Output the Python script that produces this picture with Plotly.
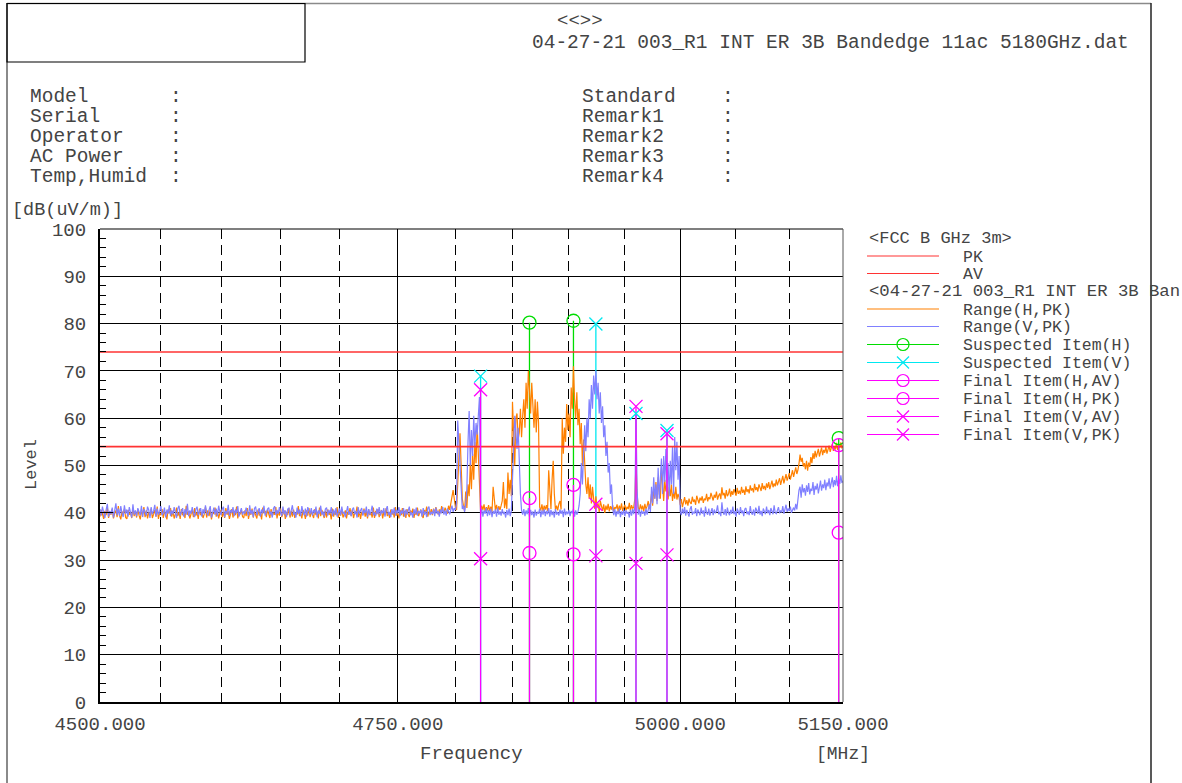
import math
import plotly.graph_objects as go

# ---- sweep setup (MHz) ----------------------------------------------------
START_MHZ, STOP_MHZ, STEP_MHZ = 4500, 5150, 1
freq_mhz = list(range(START_MHZ, STOP_MHZ + 1, STEP_MHZ))

# ---- Range(H,PK) sweep, dB(uV/m), one row = 10 MHz -----------------------
range_h_pk = [
    39.2, 40.6, 39.8, 38.7, 40.4, 39.5, 41.1, 38.9, 40.2, 39.6,
    40.8, 38.8, 39.9, 40.5, 39.1, 41.4, 39.4, 38.6, 40.3, 39.7,
    40.9, 39.0, 38.7, 40.6, 39.6, 40.1, 38.9, 41.0, 39.3, 40.4,
    39.0, 40.7, 39.5, 38.6, 40.2, 39.8, 41.2, 39.1, 40.5, 38.8,
    40.1, 39.4, 40.9, 38.9, 39.7, 40.6, 39.2, 41.3, 38.7, 40.0,
    39.5, 40.8, 38.9, 40.3, 39.6, 38.6, 40.7, 39.9, 41.0, 39.2,
    40.4, 38.8, 39.7, 41.1, 39.3, 40.2, 38.7, 40.8, 39.5, 40.0,
    38.9, 41.5, 39.6, 40.3, 38.8, 39.9, 40.6, 39.1, 41.0, 39.4,
    40.2, 38.7, 40.9, 39.5, 40.1, 38.9, 39.7, 41.2, 39.0, 40.5,
    39.3, 40.7, 38.6, 40.0, 39.8, 41.1, 39.2, 40.4, 38.8, 39.9,
    40.6, 39.1, 40.2, 38.9, 41.0, 39.6, 40.3, 38.7, 39.8, 40.8,
    39.0, 40.4, 39.5, 41.3, 38.8, 40.1, 39.7, 40.6, 39.2, 38.9,
    40.5, 39.3, 41.0, 38.7, 40.2, 39.6, 40.9, 39.0, 40.3, 39.5,
    38.8, 40.7, 39.4, 40.1, 38.6, 41.1, 39.9, 40.4, 39.1, 40.6,
    39.7, 38.9, 40.8, 39.3, 40.0, 39.6, 41.2, 38.8, 40.3, 39.4,
    40.9, 39.1, 39.8, 40.5, 38.7, 40.2, 39.5, 41.0, 39.0, 40.4,
    39.2, 40.7, 38.9, 40.1, 39.6, 41.4, 39.3, 40.0, 38.8, 40.6,
    39.9, 38.7, 40.5, 39.4, 41.0, 39.1, 40.3, 39.7, 38.9, 40.8,
    39.5, 40.2, 38.8, 41.1, 39.3, 40.6, 39.8, 38.9, 40.4, 39.0,
    40.7, 39.6, 40.0, 38.6, 40.9, 39.2, 40.3, 39.5, 41.2, 38.9,
    40.1, 39.4, 40.8, 39.0, 39.7, 40.5, 38.8, 40.2, 39.6, 41.0,
    39.3, 40.6, 38.9, 40.0, 39.8, 41.3, 39.1, 40.4, 38.7, 40.2,
    39.6, 40.9, 39.2, 40.3, 38.8, 40.7, 39.5, 40.1, 39.0, 41.1,
    38.9, 40.4, 39.7, 40.8, 39.1, 39.9, 40.6, 38.8, 40.2, 39.5,
    41.0, 39.3, 40.1, 38.9, 40.7, 39.6, 40.3, 39.0, 41.2, 39.4,
    40.0, 38.8, 40.6, 39.5, 41.0, 39.2, 40.4, 38.9, 40.8, 39.7,
    39.1, 40.5, 39.8, 40.9, 38.9, 40.2, 39.6, 41.1, 39.3, 40.0,
    40.7, 39.4, 38.9, 40.6, 39.9, 41.3, 39.2, 40.3, 39.7, 40.8,
    39.5, 40.9, 39.8, 41.2, 40.1, 39.6, 40.7, 39.9, 41.4, 40.3,
    40.0, 41.1, 40.4, 39.8, 41.5, 40.6, 42.0, 43.5, 44.8, 43.0,
    41.2, 40.6, 47.5, 52.0, 56.8, 50.0, 43.0, 41.5, 40.4, 44.5,
    41.0, 46.0, 43.5, 50.5, 45.0, 52.5, 47.0, 55.0, 50.5, 58.5,
    53.0, 49.0, 40.3, 41.5, 40.6, 41.8, 40.2, 41.2, 40.5, 41.6,
    40.4, 41.3, 40.1, 45.5, 42.0, 40.5, 41.7, 40.3, 41.4, 40.6,
    41.5, 42.5, 46.5, 41.0, 43.0, 40.8, 48.5, 44.0, 47.0, 43.5,
    63.5, 54.0, 50.0, 60.0, 61.0, 55.5, 57.0, 62.0, 56.0, 60.5,
    64.0, 58.0, 67.5, 62.0, 70.0, 66.0, 61.0, 67.5, 63.0, 58.0,
    64.0, 57.0, 63.5, 59.0, 41.2, 40.5, 41.8, 40.3, 41.5, 40.7,
    41.6, 40.4, 49.0, 43.0, 40.8, 47.0, 51.0, 44.0, 40.6, 41.5,
    40.5, 41.9, 42.5, 40.7, 60.0, 52.5, 58.0, 55.0, 63.0, 57.5,
    61.0, 56.0, 66.5, 62.0, 71.0, 64.0, 60.0, 65.5, 58.5, 62.0,
    54.5, 59.0, 50.0, 55.5, 48.5, 46.0, 44.0, 47.5, 43.0, 46.0,
    42.0, 45.5, 43.0, 40.8, 43.5, 41.0, 42.0, 40.2, 42.5, 41.2,
    40.4, 41.8, 40.0, 41.5, 40.6, 41.9, 40.3, 41.4, 40.7, 41.6,
    40.3, 41.2, 40.9, 41.8, 40.2, 41.5, 40.6, 42.0, 40.4, 41.1,
    41.7, 40.5, 41.3, 40.8, 42.1, 40.4, 41.6, 40.9, 41.2, 43.0,
    51.0, 44.0, 41.2, 40.5, 41.8, 40.7, 41.5, 40.3, 41.9, 40.8,
    41.4, 42.5, 40.9, 42.0, 44.0, 41.5, 45.0, 43.0, 46.5, 42.5,
    47.5, 44.0, 43.0, 49.5, 45.0, 42.5, 47.0, 44.5, 46.0, 42.8,
    45.5, 43.5, 46.0, 42.5, 44.5, 43.0, 45.5, 42.8, 44.0, 43.2,
    41.6, 42.9, 41.2, 42.5, 43.3, 41.8, 42.7, 41.5, 43.0, 42.2,
    41.9, 43.4, 42.3, 42.8, 41.7, 43.6, 42.5, 42.0, 43.2, 42.6,
    43.5, 42.1, 43.0, 42.7, 44.0, 42.4, 43.3, 42.9, 44.2, 43.1,
    42.6, 43.8, 43.2, 44.5, 42.8, 43.6, 44.1, 42.9, 45.4, 43.7,
    44.2, 43.0, 44.8, 43.5, 44.0, 45.1, 43.4, 44.6, 43.8, 45.0,
    44.3, 43.6, 45.3, 44.0, 44.7, 43.9, 45.5, 44.2, 44.9, 43.8,
    45.6, 44.4, 45.0, 44.1, 45.8, 44.7, 45.2, 44.3, 46.1, 44.8,
    45.4, 44.5, 46.0, 45.1, 44.6, 46.3, 45.0, 45.7, 44.8, 46.2,
    45.3, 46.5, 45.0, 45.9, 46.8, 45.4, 46.2, 45.6, 47.0, 45.8,
    46.4, 47.3, 45.9, 46.7, 47.8, 46.2, 47.1, 48.2, 46.8, 47.5,
    48.4, 47.0, 47.9, 49.0, 47.6, 48.5, 49.6, 48.2, 49.0, 50.4,
    52.3, 50.8, 51.6, 49.8, 50.5, 49.2, 51.0, 48.9, 50.6, 49.7,
    51.8, 50.5, 52.6, 51.4, 53.1, 51.7, 52.4, 53.5, 51.9, 52.8,
    53.8, 52.2, 53.3, 52.7, 54.0, 52.5, 53.6, 54.2, 52.9, 53.7,
    54.5, 53.1, 54.0, 53.4, 54.8, 53.3, 54.3, 53.8, 54.9, 53.6,
    54.2,
]

# ---- Range(V,PK) sweep, dB(uV/m), one row = 10 MHz -----------------------
range_v_pk = [
    40.8, 39.4, 41.3, 39.9, 38.9, 40.6, 41.9, 39.2, 40.4, 39.7,
    41.1, 39.0, 40.5, 42.0, 39.5, 40.9, 39.3, 41.4, 40.0, 39.1,
    41.6, 39.8, 40.7, 39.2, 41.2, 40.3, 39.0, 41.8, 39.6, 40.5,
    39.3, 41.0, 40.2, 39.5, 41.5, 39.1, 40.8, 40.1, 39.4, 41.3,
    40.6, 38.9, 41.2, 39.7, 40.4, 41.7, 39.2, 40.9, 39.6, 40.3,
    41.4, 39.5, 40.0, 41.1, 39.0, 40.7, 39.8, 41.6, 39.3, 40.5,
    39.7, 41.2, 40.3, 38.9, 40.9, 41.5, 39.4, 40.2, 41.0, 39.2,
    40.8, 39.6, 41.9, 39.3, 40.5, 39.8, 41.2, 40.0, 39.1, 40.7,
    41.3, 39.5, 40.4, 41.0, 39.2, 40.8, 39.7, 41.6, 40.1, 39.4,
    40.6, 41.4, 39.0, 40.3, 41.1, 39.6, 40.9, 39.3, 41.5, 40.2,
    39.5, 40.8, 41.3, 39.1, 40.4, 39.8, 41.7, 39.4, 40.6, 40.0,
    41.2, 39.3, 40.7, 39.9, 41.4, 39.2, 40.5, 41.0, 39.6, 40.3,
    39.8, 41.1, 40.2, 39.4, 41.6, 39.7, 40.6, 39.1, 40.9, 41.3,
    39.5, 40.4, 41.0, 39.2, 40.7, 39.9, 41.5, 39.4, 40.2, 40.8,
    41.1, 39.6, 40.3, 39.0, 40.9, 41.4, 39.5, 40.6, 39.8, 41.2,
    40.0, 39.3, 41.3, 39.7, 40.5, 39.1, 40.8, 41.0, 39.4, 40.4,
    41.6, 39.6, 40.2, 39.0, 41.1, 39.8, 40.7, 39.3, 41.4, 40.1,
    39.5, 40.9, 39.2, 41.2, 40.4, 39.7, 41.0, 39.4, 40.6, 39.9,
    41.3, 39.1, 40.5, 39.8, 41.5, 39.6, 40.3, 39.2, 40.8, 41.1,
    39.4, 40.6, 39.9, 41.2, 39.3, 40.7, 39.6, 41.0, 39.2, 40.4,
    40.9, 39.5, 41.3, 39.8, 40.2, 39.1, 40.8, 41.4, 39.6, 40.3,
    39.3, 40.7, 41.1, 39.7, 40.4, 39.0, 41.2, 39.8, 40.5, 41.0,
    39.4, 40.6, 39.9, 41.3, 39.2, 40.8, 39.6, 40.3, 41.5, 39.5,
    40.1, 39.3, 40.9, 39.7, 41.2, 39.4, 40.5, 39.9, 41.0, 39.2,
    40.7, 41.4, 39.5, 40.2, 39.1, 40.8, 39.7, 41.1, 39.4, 40.6,
    39.9, 41.2, 39.3, 40.5, 39.8, 41.0, 39.2, 40.7, 39.6, 40.3,
    41.3, 39.5, 40.1, 39.0, 40.8, 39.7, 41.1, 39.4, 40.4, 39.9,
    40.6, 39.2, 41.0, 39.6, 40.3, 39.1, 40.9, 41.3, 39.5, 40.2,
    39.7, 40.8, 39.3, 41.1, 39.8, 40.4, 39.2, 40.7, 39.9, 41.2,
    39.6, 40.5, 39.4, 40.9, 40.1, 39.7, 40.6, 41.5, 40.2, 41.0,
    40.6, 42.0, 59.5, 55.0, 48.0, 44.5, 40.8, 41.5, 40.2, 41.8,
    45.0, 55.0, 61.5, 50.0, 57.5, 52.0, 60.5, 54.0, 59.0, 56.5,
    62.0, 64.5, 39.6, 40.8, 39.2, 40.5, 39.8, 41.0, 39.3, 40.6,
    39.5, 40.9, 39.1, 40.4, 39.8, 40.7, 39.2, 41.1, 39.6, 40.3,
    39.4, 40.8, 39.7, 40.2, 39.0, 40.6, 39.5, 40.9, 39.3, 40.4,
    47.0, 55.0, 60.5, 57.0, 53.5, 58.0, 50.0, 44.0, 40.5, 39.6,
    40.8, 39.3, 40.5, 39.7, 41.0, 39.2, 40.6, 39.5, 40.3, 39.0,
    40.7, 39.4, 40.2, 39.8, 40.9, 39.1, 40.5, 39.6, 40.8, 39.3,
    40.4, 39.7, 41.0, 39.2, 40.6, 39.5, 40.3, 39.0, 40.8, 39.6,
    40.2, 39.4, 40.7, 39.8, 40.5, 39.1, 40.9, 39.5, 40.3, 39.7,
    40.6, 39.3, 40.4, 39.9, 40.8, 39.2, 40.5, 39.6, 40.2, 41.5,
    44.0, 50.5, 46.0, 55.0, 58.5, 53.0, 60.0, 56.0, 64.0, 60.0,
    67.0, 62.0, 69.0, 65.0, 70.0, 64.0, 67.5, 61.0, 65.5, 59.0,
    62.5, 56.0, 58.5, 52.0, 55.0, 48.5, 50.5, 44.0, 46.0, 41.0,
    39.5, 40.8, 39.2, 40.4, 39.7, 40.9, 39.1, 40.3, 39.6, 40.7,
    39.3, 40.5, 39.8, 40.2, 39.0, 40.6, 39.4, 40.8, 39.7, 41.5,
    61.0, 45.0, 39.6, 40.7, 39.2, 40.5, 39.8, 40.3, 39.4, 40.9,
    39.6, 40.6, 41.8, 40.2, 45.5, 42.0, 47.5, 43.0, 46.0, 41.8,
    49.5, 43.0, 47.0, 51.5, 44.0, 52.0, 46.5, 53.5, 44.5, 50.5,
    43.5, 51.0, 46.0, 54.0, 44.0, 56.0, 49.0, 55.0, 47.0, 52.0,
    40.3, 39.5, 40.9, 39.8, 41.2, 39.4, 40.6, 40.0, 39.2, 40.8,
    41.4, 39.6, 40.2, 39.9, 41.0, 39.3, 40.7, 40.1, 39.5, 41.1,
    39.8, 40.5, 39.2, 41.3, 40.0, 39.6, 40.9, 39.4, 40.4, 41.0,
    39.5, 40.7, 39.9, 40.3, 41.6, 39.7, 40.2, 39.3, 42.2, 40.1,
    39.6, 40.8, 39.4, 41.1, 40.0, 39.5, 40.6, 39.8, 41.3, 39.7,
    40.4, 39.2, 40.9, 40.1, 39.6, 41.2, 39.9, 40.5, 39.3, 40.8,
    41.0, 39.7, 40.3, 39.5, 41.4, 40.0, 39.6, 40.7, 39.4, 41.1,
    40.2, 39.8, 41.5, 39.6, 40.4, 39.3, 40.9, 40.2, 39.7, 41.3,
    39.9, 40.6, 39.5, 41.0, 40.3, 39.7, 41.6, 40.0, 39.8, 40.7,
    41.2, 39.9, 40.5, 40.1, 41.4, 39.8, 40.6, 41.7, 40.2, 40.9,
    40.4, 41.3, 40.0, 40.8, 41.1, 40.5, 41.9, 40.7, 43.0, 44.8,
    45.5, 43.2, 46.0, 44.3, 45.2, 43.6, 45.8, 44.4, 46.3, 43.9,
    45.1, 44.6, 46.5, 43.8, 45.7, 44.9, 46.2, 44.1, 45.4, 46.8,
    44.7, 46.0, 45.2, 47.0, 44.8, 46.4, 45.6, 47.3, 45.1, 46.6,
    47.5, 45.4, 46.9, 45.8, 47.8, 45.6, 47.2, 46.1, 47.9, 46.3,
    46.8,
]

assert len(range_h_pk) == len(freq_mhz) == len(range_v_pk)

# ---- FCC B GHz 3m limits ---------------------------------------------------
limit_pk = 74.0
limit_av = 54.0

# ---- suspected / final items ----------------------------------------------
susp_h_freq = [4865, 4904, 5146]
susp_h_level = [80.2, 80.6, 55.8]
susp_v_freq = [4822, 4924, 4960, 4988]
susp_v_level = [68.9, 79.9, 61.0, 57.4]

final_h_freq = [4865, 4904, 5146]
final_h_av = [31.5, 31.2, 35.8]
final_h_pk = [43.1, 45.9, 54.3]
final_v_freq = [4822, 4924, 4960, 4988]
final_v_av = [30.3, 30.9, 29.3, 31.1]
final_v_pk = [66.0, 41.8, 62.5, 56.7]

# ---- axis labels -----------------------------------------------------------
x_tick_vals = [4500, 4750, 5000, 5150]
x_tick_text = ["4500.000", "4750.000", "5000.000", "5150.000"]
x_grid_minor = [4550, 4600, 4650, 4700, 4800, 4850, 4900, 4950, 5050, 5100]

# ---- colours ---------------------------------------------------------------
C_H = "#ff8000"
C_V = "#8080ff"
C_LIMIT = "#ff3333"
C_SUSP_H = "#00dd00"
C_SUSP_V = "#00e8f0"
C_FINAL = "#ff00ff"
FONT = "Liberation Mono"
TXT = "#444444"

# ---- page geometry (pixels) -----------------------------------------------
W, H = 1182, 783
L, R, T, B = 100, 843, 229, 702


def px(x):
    return (x - L) / (R - L)


def py(y):
    return (B - y) / (B - T)


def stems(freqs, levels):
    xs, ys = [], []
    for f, v in zip(freqs, levels):
        xs += [f, f, None]
        ys += [0, v, None]
    return xs, ys


fig = go.Figure()

# suspected-item stems sit under the sweeps
for fr, lv, col in [(susp_h_freq, susp_h_level, C_SUSP_H),
                    (susp_v_freq, susp_v_level, C_SUSP_V)]:
    sx, sy = stems(fr, lv)
    fig.add_trace(go.Scatter(x=sx, y=sy, mode="lines",
                             line=dict(color=col, width=1.3), hoverinfo="skip"))

# measured sweeps
fig.add_trace(go.Scatter(x=freq_mhz, y=range_h_pk, mode="lines", name="Range(H,PK)",
                         line=dict(color=C_H, width=1.2)))
fig.add_trace(go.Scatter(x=freq_mhz, y=range_v_pk, mode="lines", name="Range(V,PK)",
                         line=dict(color=C_V, width=1.2)))

# limit lines
for lim in (limit_pk, limit_av):
    fig.add_trace(go.Scatter(x=[START_MHZ, STOP_MHZ], y=[lim, lim], mode="lines",
                             line=dict(color=C_LIMIT, width=1.6), hoverinfo="skip"))

# final-item stems
for fr, lv in [(final_h_freq, final_h_pk), (final_v_freq, final_v_pk)]:
    sx, sy = stems(fr, lv)
    fig.add_trace(go.Scatter(x=sx, y=sy, mode="lines",
                             line=dict(color=C_FINAL, width=1.3), hoverinfo="skip"))

# item markers
marker_sets = [
    (susp_h_freq, susp_h_level, C_SUSP_H, "circle-open"),
    (susp_v_freq, susp_v_level, C_SUSP_V, "x-thin-open"),
    (final_h_freq, final_h_av, C_FINAL, "circle-open"),
    (final_h_freq, final_h_pk, C_FINAL, "circle-open"),
    (final_v_freq, final_v_av, C_FINAL, "x-thin-open"),
    (final_v_freq, final_v_pk, C_FINAL, "x-thin-open"),
]
for fr, lv, col, sym in marker_sets:
    fig.add_trace(go.Scatter(x=fr, y=lv, mode="markers",
                             marker=dict(symbol=sym, size=13, color=col,
                                         line=dict(color=col, width=1.3))))

shapes = []
annotations = []


def hline(x0, x1, y, color="black", width=1):
    shapes.append(dict(type="line", xref="paper", yref="paper",
                       x0=px(x0), x1=px(x1), y0=py(y), y1=py(y),
                       line=dict(color=color, width=width)))


def vline(x, y0, y1, color="black", width=1):
    shapes.append(dict(type="line", xref="paper", yref="paper",
                       x0=px(x), x1=px(x), y0=py(y0), y1=py(y1),
                       line=dict(color=color, width=width)))


def text(x, y, s, size=19, anchor="left", angle=0):
    annotations.append(dict(xref="paper", yref="paper", x=px(x), y=py(y), text=s,
                            showarrow=False, xanchor=anchor, yanchor="middle",
                            textangle=angle,
                            font=dict(family=FONT, size=size, color=TXT)))


# page frame and header box
vline(7, 3, 783, color="#8a8a8a", width=2)
hline(7, 1151, 3.5, color="#8a8a8a", width=1.5)
vline(1151, 3, 783, color="#222222", width=1.5)
shapes.append(dict(type="rect", xref="paper", yref="paper",
                   x0=px(7), x1=px(305), y0=py(3.5), y1=py(62),
                   line=dict(color="black", width=1.2)))

# plot box top / right edges
hline(L, R, T, color="black", width=1.2)
vline(R, T, B, color="#555555", width=1)

# header text
text(580, 21, "&lt;&lt;&gt;&gt;", size=19, anchor="center")
text(530, 43, "04-27-21 003_R1 INT ER 3B Bandedge 11ac 5180GHz.dat", size=19.5)

info_left = ["Model", "Serial", "Operator", "AC Power", "Temp,Humid"]
info_right = ["Standard", "Remark1", "Remark2", "Remark3", "Remark4"]
for i, (a, b) in enumerate(zip(info_left, info_right)):
    y = 97 + 20 * i
    text(28, y, a, size=19.5)
    text(176, y, ":", size=19.5, anchor="center")
    text(580, y, b, size=19.5)
    text(728, y, ":", size=19.5, anchor="center")

# axis captions
text(10, 210, "[dB(uV/m)]", size=18.5)
text(31, 465, "Level", size=17, anchor="center", angle=-90)
text(471, 754, "Frequency", size=19, anchor="center")
text(843, 754, "[MHz]", size=18, anchor="center")

# legend block
LG_X0, LG_X1, LG_TX, LG_MK = 867, 939, 961, 903
text(LG_X0, 238, "&lt;FCC B GHz 3m&gt;", size=17)
text(LG_X0, 291.5, "&lt;04-27-21 003_R1 INT ER 3B Ban", size=17.3)
legend_rows = [
    (256, C_LIMIT, None, "PK"),
    (273.5, C_LIMIT, None, "AV"),
    (309, C_H, None, "Range(H,PK)"),
    (326.5, C_V, None, "Range(V,PK)"),
    (344.5, C_SUSP_H, "o", "Suspected Item(H)"),
    (362.5, C_SUSP_V, "x", "Suspected Item(V)"),
    (380.5, C_FINAL, "o", "Final Item(H,AV)"),
    (398.5, C_FINAL, "o", "Final Item(H,PK)"),
    (416.5, C_FINAL, "x", "Final Item(V,AV)"),
    (434.5, C_FINAL, "x", "Final Item(V,PK)"),
]
for y, col, mk, label in legend_rows:
    hline(LG_X0, LG_X1, y, color=col, width=1.2)
    if mk == "o":
        shapes.append(dict(type="circle", xref="paper", yref="paper",
                           x0=px(LG_MK - 6), x1=px(LG_MK + 6),
                           y0=py(y + 6), y1=py(y - 6),
                           line=dict(color=col, width=1.2)))
    elif mk == "x":
        shapes.append(dict(type="line", xref="paper", yref="paper",
                           x0=px(LG_MK - 6), x1=px(LG_MK + 6), y0=py(y + 6), y1=py(y - 6),
                           line=dict(color=col, width=1.2)))
        shapes.append(dict(type="line", xref="paper", yref="paper",
                           x0=px(LG_MK - 6), x1=px(LG_MK + 6), y0=py(y - 6), y1=py(y + 6),
                           line=dict(color=col, width=1.2)))
    text(LG_TX, y + 1, label, size=16.5)

fig.update_layout(
    width=W, height=H,
    margin=dict(l=L, r=W - R, t=T, b=H - B, pad=0),
    paper_bgcolor="white", plot_bgcolor="white",
    showlegend=False,
    font=dict(family=FONT, color=TXT),
    shapes=shapes, annotations=annotations,
    xaxis=dict(
        type="log",
        range=[math.log10(START_MHZ), math.log10(STOP_MHZ)],
        tickvals=x_tick_vals, ticktext=x_tick_text,
        ticks="inside", ticklen=6, tickcolor="black", tickwidth=1,
        tickfont=dict(family=FONT, size=19, color=TXT),
        ticklabelstandoff=3,
        showgrid=True, gridcolor="black", gridwidth=1,
        showline=True, linecolor="black", linewidth=2,
        zeroline=False,
        minor=dict(tickvals=x_grid_minor, ticks="inside", ticklen=6,
                   tickcolor="black", showgrid=True, gridcolor="black",
                   gridwidth=1, griddash="10px,6px"),
    ),
    yaxis=dict(
        range=[0, 100], tick0=0, dtick=10,
        ticks="inside", ticklen=13, tickcolor="black", tickwidth=1,
        tickfont=dict(family=FONT, size=19, color=TXT),
        ticklabelstandoff=8,
        showgrid=True, gridcolor="black", gridwidth=1,
        showline=True, linecolor="black", linewidth=2,
        zeroline=False,
        minor=dict(dtick=2, ticks="inside", ticklen=6, tickcolor="black",
                   showgrid=False),
    ),
)

fig.write_html("out.html")
